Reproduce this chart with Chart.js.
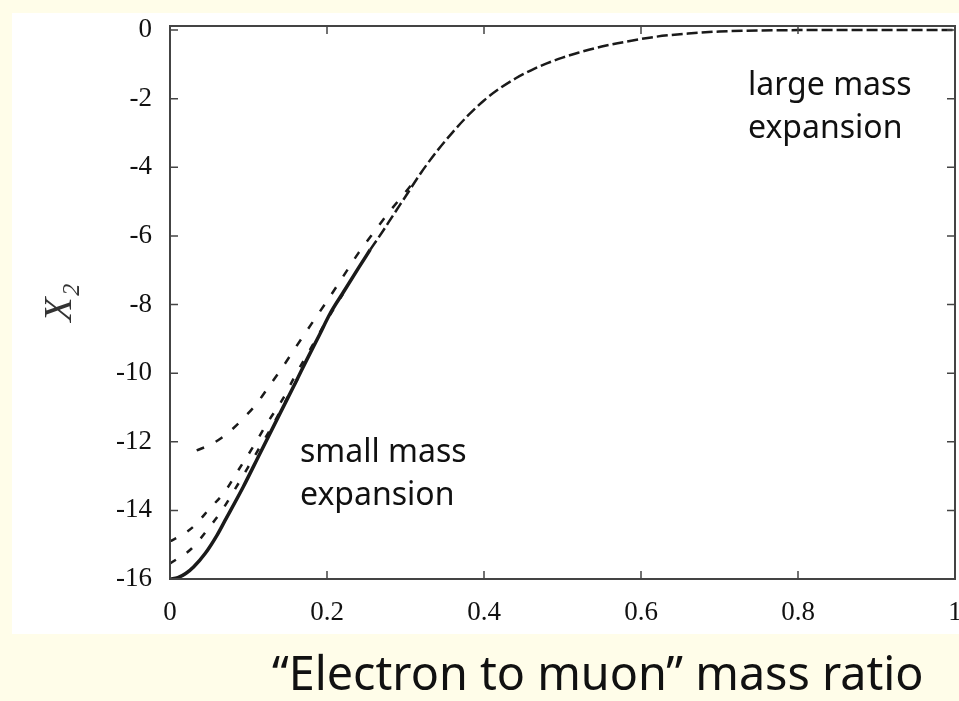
<!DOCTYPE html>
<html><head><meta charset="utf-8">
<script src="https://cdn.jsdelivr.net/npm/chart.js@4"></script>
<style>
html,body{margin:0;padding:0;background:#FFFDE9;width:959px;height:701px;overflow:hidden}
#panel{position:absolute;left:12px;top:13px;width:947px;height:621px;background:#fff}
#wrap{position:absolute;left:0;top:0;width:959px;height:701px}
.note{position:absolute;font-family:'Noto Sans';font-size:32px;line-height:43px;color:#111;white-space:nowrap}
#xtitle{position:absolute;left:272px;top:649px;font-family:'Noto Sans';font-size:46.7px;line-height:46px;color:#111;white-space:nowrap}
</style></head>
<body>
<div id="panel"></div>
<div id="wrap"><canvas id="c" width="959" height="701"></canvas></div>
<div class="note" style="left:748px;top:61px">large mass<br>expansion</div>
<div class="note" style="left:300px;top:428px">small mass<br>expansion</div>
<div id="xtitle">“Electron to muon” mass ratio</div>
<script>
// tick labels
const xTicks = [0, 0.2, 0.4, 0.6, 0.8, 1];
const yTicks = [0, -2, -4, -6, -8, -10, -12, -14, -16];

// solid curve
const exactX = [0, 0.01, 0.02, 0.03, 0.045, 0.06, 0.07, 0.0934, 0.1146, 0.14, 0.16, 0.174, 0.19, 0.204, 0.22, 0.24, 0.255];
const exactY = [-16, -15.96, -15.84, -15.65, -15.25, -14.72, -14.3, -13.31, -12.34, -11.18, -10.27, -9.62, -8.9, -8.26, -7.67, -6.94, -6.4];

// large mass expansion (long dashes)
const largeX = [0.255, 0.27, 0.285, 0.30, 0.32, 0.34, 0.36, 0.38, 0.40, 0.42, 0.44, 0.46, 0.48, 0.50, 0.52, 0.55, 0.58, 0.62, 0.66, 0.70, 0.75, 0.80, 0.90, 1.00];
const largeY = [-6.4, -5.9, -5.37, -4.85, -4.15, -3.53, -2.98, -2.48, -2.05, -1.7, -1.41, -1.17, -0.97, -0.8, -0.66, -0.48, -0.34, -0.19, -0.1, -0.04, -0.01, 0, 0, 0];

// small mass expansions (short dashes)
const smallAX = [0.034, 0.05, 0.065, 0.08, 0.095, 0.11, 0.125, 0.145, 0.16, 0.18, 0.20, 0.22, 0.24, 0.26, 0.28, 0.30, 0.315];
const smallAY = [-12.25, -12.1, -11.9, -11.62, -11.28, -10.9, -10.42, -9.77, -9.25, -8.57, -7.9, -7.2, -6.5, -5.88, -5.28, -4.72, -4.3];
const smallBX = [0, 0.015, 0.03, 0.05, 0.07, 0.087, 0.105, 0.124, 0.143, 0.16, 0.18, 0.20, 0.22];
const smallBY = [-14.9, -14.72, -14.47, -13.96, -13.45, -12.83, -12.18, -11.45, -10.78, -10.05, -9.25, -8.45, -7.7];
const smallCX = [0, 0.0276, 0.0488, 0.0665, 0.0834, 0.0997, 0.1146, 0.1295, 0.15, 0.17];
const smallCY = [-15.55, -15.11, -14.53, -13.99, -13.36, -12.73, -12.15, -11.57, -10.7, -9.85];

const pts = (xs, ys) => xs.map((v, i) => ({x: v, y: ys[i]}));
const line = (label, xs, ys, width, dash) => ({
  label, data: pts(xs, ys), showLine: true, pointRadius: 0, borderColor: '#1a1a1a',
  borderWidth: width, borderDash: dash, cubicInterpolationMode: 'monotone', fill: false
});

const framePlugin = {
  id: 'frame',
  afterDatasetsDraw(chart) {
    const {ctx, chartArea: a, scales: {x, y}} = chart;
    ctx.save();
    ctx.strokeStyle = '#444';
    ctx.lineWidth = 2;
    ctx.strokeRect(a.left, a.top, a.right - a.left, a.bottom - a.top);
    ctx.lineWidth = 1.5;
    ctx.beginPath();
    yTicks.forEach(v => {
      const p = y.getPixelForValue(v);
      ctx.moveTo(a.left, p); ctx.lineTo(a.left + 8, p);
      ctx.moveTo(a.right, p); ctx.lineTo(a.right - 8, p);
    });
    xTicks.forEach(v => {
      const p = x.getPixelForValue(v);
      ctx.moveTo(p, a.bottom); ctx.lineTo(p, a.bottom - 8);
      ctx.moveTo(p, a.top); ctx.lineTo(p, a.top + 8);
    });
    ctx.stroke();
    ctx.restore();
  }
};

new Chart(document.getElementById('c'), {
  type: 'scatter',
  data: {
    datasets: [
      line('small mass 1', smallAX, smallAY, 2.5, [8, 13]),
      line('small mass 2', smallBX, smallBY, 2.5, [7, 13]),
      line('small mass 3', smallCX, smallCY, 2.5, [7, 13]),
      line('large mass expansion', largeX, largeY, 2.5, [11, 4]),
      line('exact', exactX, exactY, 3.5, [])
    ]
  },
  options: {
    responsive: false,
    animation: false,
    events: [],
    layout: {padding: {top: 26, right: 4, left: 0, bottom: 0}},
    plugins: {legend: {display: false}, tooltip: {enabled: false}},
    scales: {
      x: {
        type: 'linear', min: 0, max: 1,
        grid: {display: false, drawTicks: false},
        border: {display: false},
        afterBuildTicks: s => { s.ticks = xTicks.map(v => ({value: v})); },
        afterFit: s => { s.height = 122; s.paddingLeft = 0; s.paddingRight = 0; },
        ticks: {padding: 18, color: '#111', font: {family: 'Liberation Serif', size: 27}, maxRotation: 0,
                callback: v => String(v)}
      },
      y: {
        type: 'linear', min: -16, max: 0.12,
        grid: {display: false, drawTicks: false},
        border: {display: false},
        afterBuildTicks: s => { s.ticks = yTicks.map(v => ({value: v})); },
        afterFit: s => { s.width = 170; s.paddingTop = 0; s.paddingBottom = 0; },
        ticks: {padding: 18, color: '#111', font: {family: 'Liberation Serif', size: 27},
                callback: v => String(v)},
        title: {display: true, text: 'X\u2082', color: '#333',
                font: {family: 'Liberation Serif', size: 40, style: 'italic'}, padding: {top: 36, bottom: 0}}
      }
    }
  },
  plugins: [framePlugin]
});
</script>
</body></html>
